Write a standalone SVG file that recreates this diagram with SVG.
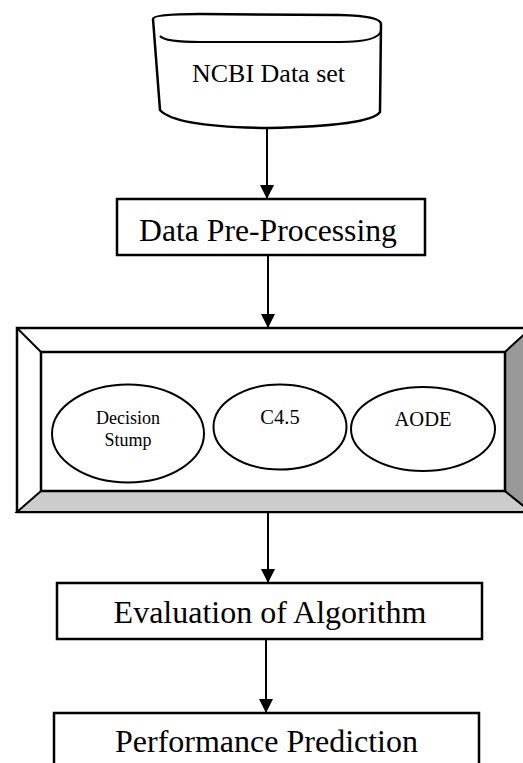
<svg xmlns="http://www.w3.org/2000/svg" width="523" height="763" viewBox="0 0 523 763">
<defs>
<style>
.t{font-family:"Liberation Serif","Times New Roman",serif;fill:#000;text-anchor:middle}
.box{fill:#fff;stroke:#000;stroke-width:2.5}
.ln{stroke:#000;stroke-width:2;fill:none}
.el{fill:#fff;stroke:#000;stroke-width:2}
</style>
<marker id="ah" viewBox="0 0 14 14" refX="14" refY="7" markerWidth="14" markerHeight="14" markerUnits="userSpaceOnUse" orient="auto">
<path d="M0,0 L14,7 L0,14 Z" fill="#000"/>
</marker>
</defs>
<rect width="523" height="763" fill="#fff"/>

<g id="connectors">
<line class="ln" x1="267" y1="128" x2="267" y2="199" marker-end="url(#ah)"/>
<line class="ln" x1="268" y1="255" x2="268" y2="328" marker-end="url(#ah)"/>
<line class="ln" x1="268" y1="512" x2="268" y2="583" marker-end="url(#ah)"/>
<line class="ln" x1="266" y1="639" x2="266" y2="713" marker-end="url(#ah)"/>
</g>

<g id="ncbi">
<path d="M153,19 Q153,14 200,14 L340,15 Q381,16 381,24 L380,112 Q370,126 268,128 Q175,127 160,110 Z" fill="#fff" stroke="#000" stroke-width="2.5"/>
<path d="M160,36 Q165,42 200,42 L340,42 Q378,42 381,31" class="ln" stroke-width="2.5"/>
<text class="t" x="268.5" y="82" font-size="26">NCBI Data set</text>
</g>

<g id="preprocessing">
<rect class="box" x="117" y="199" width="308" height="56"/>
<text class="t" x="268" y="240.5" font-size="31.7">Data Pre-Processing</text>
</g>

<g id="algorithms">
<rect x="17" y="328" width="514" height="184" fill="#fff" stroke="#000" stroke-width="2.5"/>
<polygon points="17,512 41,491 505,491 531,512" fill="#cccccc" stroke="#000" stroke-width="2"/>
<polygon points="505,352 531,328 531,512 505,491" fill="#999999" stroke="#000" stroke-width="2"/>
<line class="ln" x1="17" y1="328" x2="41" y2="352"/>
<rect x="41" y="352" width="464" height="139" fill="#fff" stroke="#000" stroke-width="2.5"/>
<g id="decision-stump">
<ellipse class="el" cx="128" cy="433.5" rx="76" ry="49"/>
<text class="t" x="128" y="424" font-size="18">Decision</text>
<text class="t" x="128" y="446" font-size="18">Stump</text>
</g>
<g id="c45">
<ellipse class="el" cx="280" cy="427" rx="66.5" ry="42.5"/>
<text class="t" x="280" y="424" font-size="20.5">C4.5</text>
</g>
<g id="aode">
<ellipse class="el" cx="423" cy="429" rx="72" ry="42"/>
<text class="t" x="423" y="425.5" font-size="20.5">AODE</text>
</g>
</g>

<g id="evaluation">
<rect class="box" x="57" y="583" width="425" height="56"/>
<text class="t" x="270" y="623" font-size="32">Evaluation of Algorithm</text>
</g>

<g id="performance">
<rect class="box" x="54" y="713" width="425" height="60"/>
<text class="t" x="266.5" y="752" font-size="32">Performance Prediction</text>
</g>
</svg>
